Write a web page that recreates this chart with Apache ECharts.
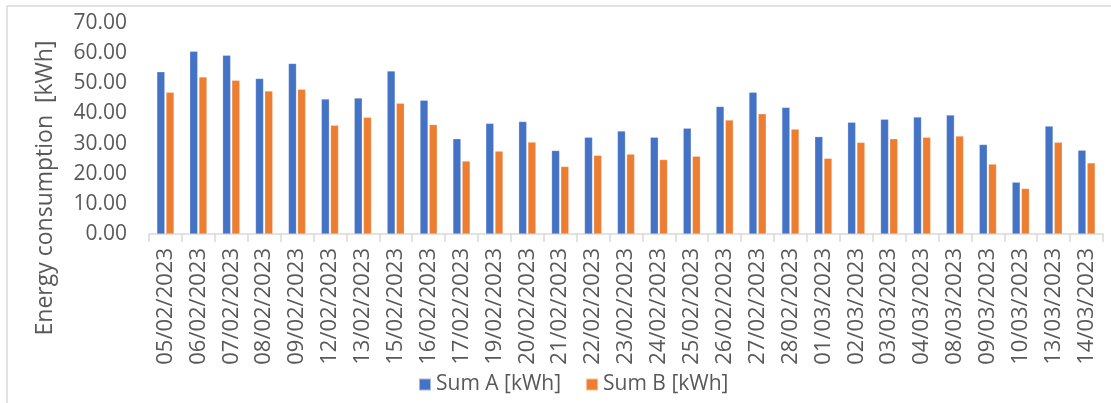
<!DOCTYPE html>
<html>
<head>
<meta charset="utf-8">
<script src="https://cdn.jsdelivr.net/npm/echarts@6/dist/echarts.min.js"></script>
<style>html,body{margin:0;padding:0;background:#fff;}#c{width:1111px;height:403px;}</style>
</head>
<body>
<div id="c"></div>
<script>
const categories = ['05/02/2023','06/02/2023','07/02/2023','08/02/2023','09/02/2023','12/02/2023','13/02/2023','15/02/2023','16/02/2023','17/02/2023','19/02/2023','20/02/2023','21/02/2023','22/02/2023','23/02/2023','24/02/2023','25/02/2023','26/02/2023','27/02/2023','28/02/2023','01/03/2023','02/03/2023','03/03/2023','04/03/2023','08/03/2023','09/03/2023','10/03/2023','13/03/2023','14/03/2023'];
const sumA = [53.8,60.6,59.3,51.6,56.6,44.8,45.1,54.1,44.4,31.6,36.7,37.3,27.7,32.1,34.2,32.1,35.1,42.3,47.0,42.0,32.3,37.1,38.1,38.8,39.5,29.7,17.2,35.8,27.8];
const sumB = [47.0,52.1,51.0,47.4,48.0,36.1,38.7,43.4,36.3,24.2,27.5,30.5,22.4,26.1,26.5,24.7,25.8,37.8,39.9,34.8,25.1,30.4,31.6,32.1,32.5,23.2,15.1,30.4,23.6];
const yTicks = {min: 0, max: 70, interval: 10};
const yTitle = 'Energy consumption  [kWh]';

const txt = '#595959';
const font = 'Open Sans';
const chart = echarts.init(document.getElementById('c'));
chart.setOption({
  animation: false,
  textStyle: {fontFamily: font},
  graphic: [
    {type: 'line', shape: {x1: 7, y1: 6, x2: 1111, y2: 6}, style: {stroke: '#d9d9d9', lineWidth: 1.5}},
    {type: 'line', shape: {x1: 7, y1: 6, x2: 7, y2: 403}, style: {stroke: '#d9d9d9', lineWidth: 1.5}},
    {type: 'text', x: 45, y: 188, rotation: Math.PI / 2,
     style: {text: yTitle, fill: txt, font: '23px "Open Sans"', align: 'center', verticalAlign: 'middle'}}
  ],
  grid: {left: 149, right: 8, top: 23, bottom: 169, containLabel: false},
  legend: {
    top: 369, left: 413,
    itemWidth: 12, itemHeight: 12, itemGap: 24,
    icon: 'rect',
    textStyle: {color: txt, fontSize: 21, fontFamily: font},
    data: ['Sum A [kWh]', 'Sum B [kWh]']
  },
  xAxis: {
    type: 'category',
    data: categories,
    boundaryGap: true,
    axisLine: {show: true, lineStyle: {color: '#d9d9d9', width: 1.5}},
    axisTick: {show: true, length: 8, alignWithLabel: false, lineStyle: {color: '#d9d9d9', width: 1.5}},
    axisLabel: {rotate: 90, interval: 0, color: txt, fontSize: 22, fontFamily: font, margin: 14}
  },
  yAxis: {
    type: 'value',
    min: yTicks.min, max: yTicks.max, interval: yTicks.interval,
    splitLine: {show: false},
    axisLine: {show: false},
    axisTick: {show: false},
    axisLabel: {color: txt, fontSize: 21, fontFamily: font, margin: 22, formatter: v => v.toFixed(2)}
  },
  series: [
    {name: 'Sum A [kWh]', type: 'bar', data: sumA, barWidth: 8, barGap: '15%',
     itemStyle: {color: '#4472C4', borderColor: 'rgba(255,255,255,0.5)', borderWidth: 0.5}},
    {name: 'Sum B [kWh]', type: 'bar', data: sumB, barWidth: 8, barGap: '15%',
     itemStyle: {color: '#ED7D31', borderColor: 'rgba(255,255,255,0.5)', borderWidth: 0.5}}
  ]
});
</script>
</body>
</html>
